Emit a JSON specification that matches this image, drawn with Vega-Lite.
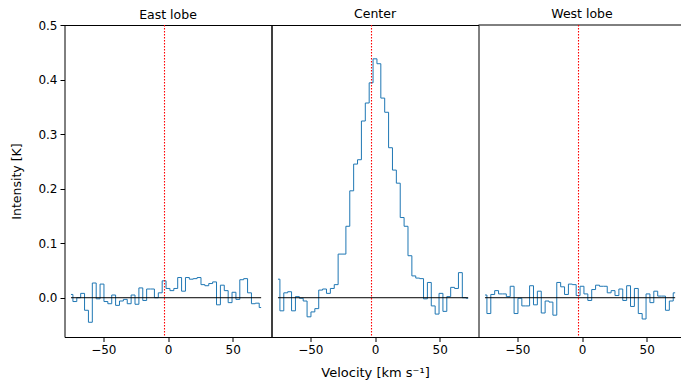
{
  "$schema": "https://vega.github.io/schema/vega-lite/v6.json",
  "padding": {"left": 9.5, "top": 7, "right": 0, "bottom": 2},
  "background": "white",
  "spacing": 0,
  "bounds": "flush",
  "config": {
    "font": "DejaVu Sans",
    "view": {"stroke": "black", "strokeWidth": 1},
    "axis": {"labelFont": "DejaVu Sans", "titleFont": "DejaVu Sans", "labelFontSize": 12, "titleFontSize": 12.5, "titleFontWeight": "normal", "labelColor": "black", "titleColor": "black", "tickColor": "black", "domainColor": "black", "grid": false, "tickSize": 4.5, "labelPadding": 3},
    "title": {"font": "DejaVu Sans", "fontSize": 12.5, "fontWeight": "normal", "color": "black", "offset": 4, "frame": "group"}
  },
  "datasets": {
    "east": [
      {"v": -75, "T": 0.006}, {"v": -72, "T": -0.007}, {"v": -69, "T": 0.0}, {"v": -66, "T": 0.008}, {"v": -63, "T": -0.023},
      {"v": -60, "T": -0.045}, {"v": -57, "T": 0.027}, {"v": -54, "T": -0.002}, {"v": -51, "T": 0.025}, {"v": -48, "T": -0.007},
      {"v": -45, "T": -0.011}, {"v": -42, "T": 0.005}, {"v": -39, "T": -0.014}, {"v": -36, "T": -0.006}, {"v": -33, "T": -0.003},
      {"v": -30, "T": -0.011}, {"v": -27, "T": 0.005}, {"v": -24, "T": -0.012}, {"v": -21, "T": 0.018}, {"v": -18, "T": -0.005},
      {"v": -15, "T": 0.016}, {"v": -12, "T": 0.016}, {"v": -9, "T": 0.0}, {"v": -6, "T": 0.009}, {"v": -3, "T": 0.031},
      {"v": 0, "T": 0.017}, {"v": 3, "T": 0.013}, {"v": 6, "T": 0.017}, {"v": 9, "T": 0.037}, {"v": 12, "T": 0.012},
      {"v": 15, "T": 0.037}, {"v": 18, "T": 0.034}, {"v": 21, "T": 0.035}, {"v": 24, "T": 0.037}, {"v": 27, "T": 0.024},
      {"v": 30, "T": 0.022}, {"v": 33, "T": 0.026}, {"v": 36, "T": 0.029}, {"v": 39, "T": -0.013}, {"v": 42, "T": 0.023},
      {"v": 45, "T": 0.013}, {"v": 48, "T": -0.009}, {"v": 51, "T": 0.010}, {"v": 54, "T": -0.003}, {"v": 57, "T": 0.033},
      {"v": 60, "T": 0.035}, {"v": 63, "T": 0.009}, {"v": 66, "T": -0.011}, {"v": 69, "T": -0.010}, {"v": 72, "T": -0.018}
    ],
    "center": [
      {"v": -75, "T": 0.034}, {"v": -72, "T": -0.024}, {"v": -69, "T": 0.009}, {"v": -66, "T": 0.011}, {"v": -63, "T": -0.024},
      {"v": -60, "T": 0.002}, {"v": -57, "T": -0.001}, {"v": -54, "T": -0.006}, {"v": -51, "T": -0.035}, {"v": -48, "T": -0.026},
      {"v": -45, "T": -0.020}, {"v": -42, "T": 0.014}, {"v": -39, "T": 0.016}, {"v": -36, "T": 0.008}, {"v": -33, "T": 0.017},
      {"v": -30, "T": 0.024}, {"v": -27, "T": 0.080}, {"v": -24, "T": 0.080}, {"v": -21, "T": 0.131}, {"v": -18, "T": 0.196},
      {"v": -15, "T": 0.245}, {"v": -12, "T": 0.253}, {"v": -9, "T": 0.324}, {"v": -6, "T": 0.357}, {"v": -3, "T": 0.394},
      {"v": 0, "T": 0.438}, {"v": 3, "T": 0.429}, {"v": 6, "T": 0.366}, {"v": 9, "T": 0.340}, {"v": 12, "T": 0.275},
      {"v": 15, "T": 0.234}, {"v": 18, "T": 0.210}, {"v": 21, "T": 0.147}, {"v": 24, "T": 0.131}, {"v": 27, "T": 0.077},
      {"v": 30, "T": 0.040}, {"v": 33, "T": 0.036}, {"v": 36, "T": 0.035}, {"v": 39, "T": -0.002}, {"v": 42, "T": 0.028},
      {"v": 45, "T": -0.015}, {"v": 48, "T": -0.030}, {"v": 51, "T": 0.008}, {"v": 54, "T": -0.025}, {"v": 57, "T": 0.002},
      {"v": 60, "T": 0.019}, {"v": 63, "T": 0.017}, {"v": 66, "T": 0.046}, {"v": 69, "T": 0.000}, {"v": 72, "T": -0.001}
    ],
    "west": [
      {"v": -75, "T": 0.005}, {"v": -72, "T": -0.029}, {"v": -69, "T": 0.006}, {"v": -66, "T": 0.013}, {"v": -63, "T": 0.007},
      {"v": -60, "T": 0.007}, {"v": -57, "T": 0.002}, {"v": -54, "T": 0.021}, {"v": -51, "T": -0.029}, {"v": -48, "T": -0.001},
      {"v": -45, "T": -0.015}, {"v": -42, "T": -0.015}, {"v": -39, "T": 0.022}, {"v": -36, "T": -0.013}, {"v": -33, "T": 0.012},
      {"v": -30, "T": -0.028}, {"v": -27, "T": -0.006}, {"v": -24, "T": -0.008}, {"v": -21, "T": -0.032}, {"v": -18, "T": 0.028},
      {"v": -15, "T": 0.020}, {"v": -12, "T": 0.006}, {"v": -9, "T": 0.025}, {"v": -6, "T": 0.024}, {"v": -3, "T": 0.004},
      {"v": 0, "T": 0.021}, {"v": 3, "T": 0.007}, {"v": 6, "T": -0.005}, {"v": 9, "T": 0.015}, {"v": 12, "T": 0.023},
      {"v": 15, "T": 0.021}, {"v": 18, "T": 0.021}, {"v": 21, "T": 0.009}, {"v": 24, "T": 0.013}, {"v": 27, "T": 0.004},
      {"v": 30, "T": 0.016}, {"v": 33, "T": -0.005}, {"v": 36, "T": 0.022}, {"v": 39, "T": -0.016}, {"v": 42, "T": 0.017},
      {"v": 45, "T": -0.029}, {"v": 48, "T": -0.039}, {"v": 51, "T": 0.007}, {"v": 54, "T": -0.009}, {"v": 57, "T": 0.012},
      {"v": 60, "T": 0.003}, {"v": 63, "T": 0.003}, {"v": 66, "T": -0.023}, {"v": 69, "T": -0.006}, {"v": 72, "T": 0.009}
    ],
    "zeroline": [{"v": -75, "v2": 72, "T": 0}],
    "vsys": [{"v": -2.7}],
    "topline": [{"v": -80, "v2": 76.9, "T": 0.5}]
  },
  "hconcat": [
    {
      "width": 207, "height": 312,
      "title": {"text": "East lobe", "offset": -2},
      "layer": [
        {
          "data": {"name": "east"},
          "mark": {"type": "line", "interpolate": "step", "color": "#1f77b4", "strokeWidth": 1},
          "encoding": {
            "x": {"field": "v", "type": "quantitative", "title": null, "scale": {"domain": [-80, 80], "nice": false, "zero": false}, "axis": {"values": [-50, 0, 50], "domain": false, "labelFlush": false}},
            "y": {"field": "T", "type": "quantitative", "title": "Intensity [K]", "scale": {"domain": [-0.072, 0.5], "nice": false, "zero": false}, "axis": {"values": [0, 0.1, 0.2, 0.3, 0.4, 0.5], "format": ".1f", "domain": false, "titlePadding": 14, "labelFlush": false}}
          }
        },
        {
          "data": {"name": "zeroline"},
          "mark": {"type": "rule", "color": "black", "strokeWidth": 1},
          "encoding": {"x": {"field": "v", "type": "quantitative"}, "x2": {"field": "v2"}, "y": {"field": "T", "type": "quantitative"}}
        },
        {
          "data": {"name": "vsys"},
          "mark": {"type": "rule", "stroke": "#ff0000", "color": "#ff0000", "strokeWidth": 1.1, "strokeDash": [1.5, 1.5]},
          "encoding": {"x": {"field": "v", "type": "quantitative"}}
        }
      ]
    },
    {
      "width": 207, "height": 312,
      "title": "Center",
      "layer": [
        {
          "data": {"name": "center"},
          "mark": {"type": "line", "interpolate": "step", "color": "#1f77b4", "strokeWidth": 1},
          "encoding": {
            "x": {"field": "v", "type": "quantitative", "title": "Velocity [km s⁻¹]", "scale": {"domain": [-80, 80], "nice": false, "zero": false}, "axis": {"values": [-50, 0, 50], "domain": false, "labelFlush": false, "titlePadding": 11, "titleFontSize": 13}},
            "y": {"field": "T", "type": "quantitative", "scale": {"domain": [-0.072, 0.5], "nice": false, "zero": false}, "axis": null}
          }
        },
        {
          "data": {"name": "zeroline"},
          "mark": {"type": "rule", "color": "black", "strokeWidth": 1},
          "encoding": {"x": {"field": "v", "type": "quantitative"}, "x2": {"field": "v2"}, "y": {"field": "T", "type": "quantitative"}}
        },
        {
          "data": {"name": "vsys"},
          "mark": {"type": "rule", "stroke": "#ff0000", "color": "#ff0000", "strokeWidth": 1.1, "strokeDash": [1.5, 1.5]},
          "encoding": {"x": {"field": "v", "type": "quantitative"}}
        }
      ]
    },
    {
      "width": 203, "height": 312,
      "title": {"text": "West lobe", "dx": 2},
      "view": {"stroke": null},
      "layer": [
        {
          "data": {"name": "west"},
          "mark": {"type": "line", "interpolate": "step", "color": "#1f77b4", "strokeWidth": 1},
          "encoding": {
            "x": {"field": "v", "type": "quantitative", "title": null, "scale": {"domain": [-80, 76.9], "nice": false, "zero": false}, "axis": {"values": [-50, 0, 50], "domain": true, "labelFlush": false}},
            "y": {"field": "T", "type": "quantitative", "scale": {"domain": [-0.072, 0.5], "nice": false, "zero": false}, "axis": null}
          }
        },
        {
          "data": {"name": "zeroline"},
          "mark": {"type": "rule", "color": "black", "strokeWidth": 1},
          "encoding": {"x": {"field": "v", "type": "quantitative"}, "x2": {"field": "v2"}, "y": {"field": "T", "type": "quantitative"}}
        },
        {
          "data": {"name": "topline"},
          "mark": {"type": "rule", "color": "black", "strokeWidth": 1},
          "encoding": {"x": {"field": "v", "type": "quantitative"}, "x2": {"field": "v2"}, "y": {"field": "T", "type": "quantitative"}}
        },
        {
          "data": {"name": "vsys"},
          "mark": {"type": "rule", "stroke": "#ff0000", "color": "#ff0000", "strokeWidth": 1.1, "strokeDash": [1.5, 1.5]},
          "encoding": {"x": {"field": "v", "type": "quantitative"}}
        }
      ]
    }
  ]
}
